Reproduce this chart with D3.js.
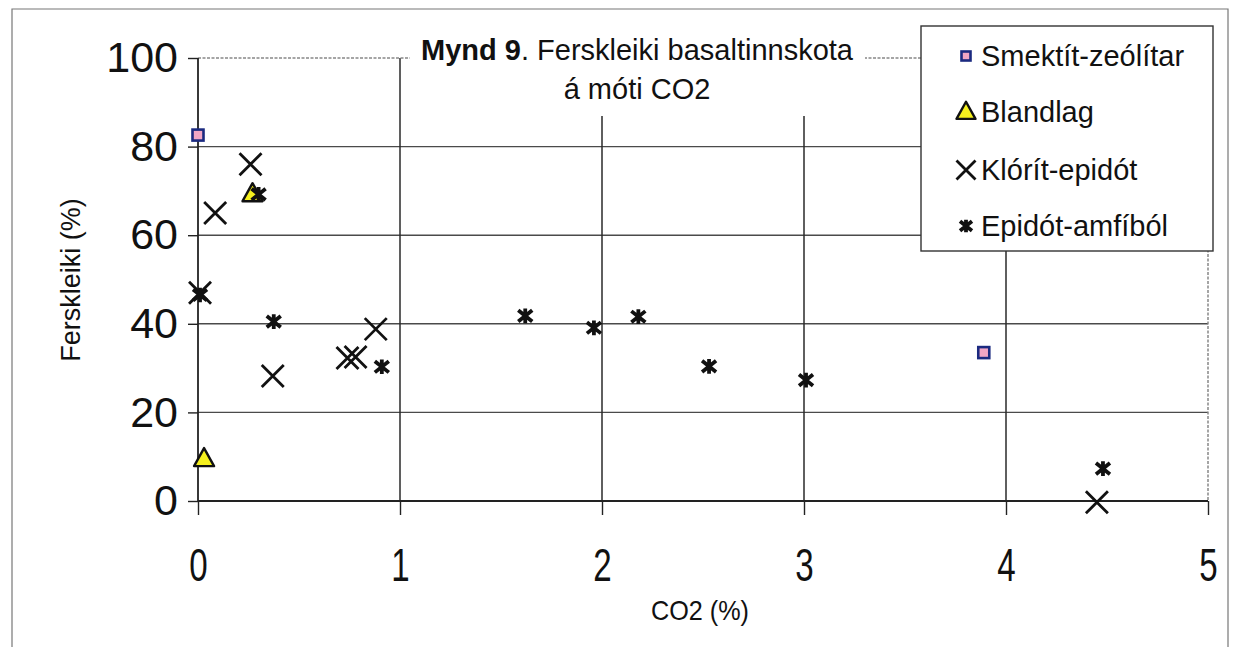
<!DOCTYPE html>
<html>
<head>
<meta charset="utf-8">
<script src="https://cdn.jsdelivr.net/npm/d3@7"></script>
<style>
  html, body { margin: 0; padding: 0; background: #fff; }
  svg { display: block; font-family: "Liberation Sans", Arial, sans-serif; }
</style>
</head>
<body>
<svg id="chart" width="1233" height="647"></svg>
<script>
// Series (CO2 %, Ferskleiki %)
const smektitZeolitar = [[0.00, 82.6], [3.89, 33.5]];
const blandlag = [[0.27, 69.3], [0.03, 9.5]];
const kloritEpidot = [[0.26, 76], [0.085, 65], [0.01, 47], [0.37, 28.2], [0.74, 32.3], [0.78, 32.5], [0.88, 38.8], [4.45, -0.3]];
const epidotAmfibol = [[0.01, 46.5], [0.30, 69.2], [0.375, 40.5], [0.91, 30.3], [1.62, 41.8], [1.96, 39.1], [2.18, 41.6], [2.53, 30.4], [3.01, 27.3], [4.48, 7.3]];

const xTicks = [0, 1, 2, 3, 4, 5];
const yTicks = [0, 20, 40, 60, 80, 100];
const legendLabels = ["Smektít-zeólítar", "Blandlag", "Klórít-epidót", "Epidót-amfíból"];

const svg = d3.select("#chart");
const plotLeft = 198, plotRight = 1208, plotTop = 58, plotBottom = 501;

const x = d3.scaleLinear().domain([0, 5]).range([plotLeft, plotRight]);
const y = d3.scaleLinear().domain([0, 100]).range([plotBottom, plotTop]);

// outer frame
svg.append("path")
  .attr("d", `M12,647 L12,9 L1228,9 L1228,647`)
  .attr("fill", "none").attr("stroke", "#777").attr("stroke-width", 1.2);

// horizontal gridlines
const g = svg.append("g");
g.selectAll("line.hg").data(yTicks.filter(d => d > 0 && d < 100)).join("line")
  .attr("class", "hg")
  .attr("x1", plotLeft).attr("x2", plotRight)
  .attr("y1", d => y(d)).attr("y2", d => y(d))
  .attr("stroke", "#4a4a4a").attr("stroke-width", 1.4);
// vertical gridlines
g.selectAll("line.vg").data(xTicks.filter(d => d > 0 && d < 5)).join("line")
  .attr("class", "vg")
  .attr("x1", d => x(d)).attr("x2", d => x(d))
  .attr("y1", plotTop).attr("y2", plotBottom)
  .attr("stroke", "#2a2a2a").attr("stroke-width", 1.5);

// top and right border of plot area (light, dotted)
svg.append("path")
  .attr("d", `M${plotLeft},${plotTop} L${plotRight},${plotTop} L${plotRight},${plotBottom}`)
  .attr("fill", "none").attr("stroke", "#888").attr("stroke-width", 1.5)
  .attr("stroke-dasharray", "3,1.5");

// axes
const xAxis = d3.axisBottom(x).tickValues(xTicks).tickSize(14).tickPadding(33).tickFormat(d3.format("d"));
const yAxis = d3.axisLeft(y).tickValues(yTicks).tickSize(10).tickPadding(10).tickFormat(d3.format("d"));

const gx = svg.append("g").attr("transform", `translate(0,${plotBottom})`).call(xAxis);
const gy = svg.append("g").attr("transform", `translate(${plotLeft},0)`).call(yAxis);
[gx, gy].forEach(a => {
  a.select(".domain").attr("stroke", "#222").attr("stroke-width", 1.8);
  a.selectAll(".tick line").attr("stroke", "#222").attr("stroke-width", 1.4);
  a.selectAll(".tick text").attr("fill", "#111")
    .attr("font-family", "'Liberation Sans', Arial, sans-serif");
});
gy.selectAll(".tick text").attr("font-size", 43);
// x labels are set in a narrow, tall face
gx.selectAll(".tick text").attr("font-size", 46).attr("transform", "scale(0.72,1)");
gx.select(".domain").attr("d", `M${plotLeft},0H${plotRight}`);
gy.select(".domain").attr("d", `M0,${plotBottom}V${plotTop}`);

// axis titles
svg.append("text").attr("x", 700).attr("y", 620).attr("text-anchor", "middle")
  .attr("font-size", 28).attr("fill", "#111")
  .attr("transform", "translate(700,0) scale(0.9,1) translate(-700,0)").text("CO2 (%)");
svg.append("text").attr("transform", "translate(80,280) rotate(-90)")
  .attr("text-anchor", "middle").attr("font-size", 27).attr("fill", "#111").text("Ferskleiki (%)");

// title box (covers gridlines)
svg.append("rect").attr("x", 410).attr("y", 26).attr("width", 455).attr("height", 90).attr("fill", "#fff");
const t1 = svg.append("text").attr("x", 637).attr("y", 60).attr("text-anchor", "middle")
  .attr("font-size", 29).attr("fill", "#111");
t1.append("tspan").attr("font-weight", "bold").text("Mynd 9");
t1.append("tspan").text(".  Ferskleiki basaltinnskota");
svg.append("text").attr("x", 637).attr("y", 99).attr("text-anchor", "middle")
  .attr("font-size", 29).attr("fill", "#111").text("á móti CO2");

// marker shapes
function drawSquare(sel, s) {
  sel.append("rect").attr("x", -s / 2).attr("y", -s / 2).attr("width", s).attr("height", s)
    .attr("fill", "#f2a6c4").attr("stroke", "#1b2a80").attr("stroke-width", 2.6);
}
function drawTriangle(sel, s) {
  const h = s * 0.9;
  sel.append("path").attr("d", `M0,${-h * 0.6} L${s / 2},${h * 0.4} L${-s / 2},${h * 0.4} Z`)
    .attr("fill", "#f5f01e").attr("stroke", "#111").attr("stroke-width", 2.4).attr("stroke-linejoin", "round");
}
function drawCross(sel, s) {
  const r = s / 2;
  sel.append("path").attr("d", `M${-r},${-r} L${r},${r} M${-r},${r} L${r},${-r}`)
    .attr("stroke", "#111").attr("stroke-width", 2.8).attr("fill", "none");
}
function drawStar(sel, s) {
  const r = s / 2;
  sel.append("path").attr("d", `M${-r},${-r * 0.8} L${r},${r * 0.8} M${-r},${r * 0.8} L${r},${-r * 0.8} M0,${-r * 1.05} L0,${r * 1.05}`)
    .attr("stroke", "#111").attr("stroke-width", 3.8).attr("fill", "none");
}

const plot = svg.append("g");
function plotSeries(data, fn, size) {
  data.forEach(d => {
    const m = plot.append("g").attr("transform", `translate(${x(d[0])},${y(d[1])})`);
    fn(m, size);
  });
}
plotSeries(smektitZeolitar, drawSquare, 11);
plotSeries(blandlag, drawTriangle, 20);
plotSeries(kloritEpidot, drawCross, 22);
plotSeries(epidotAmfibol, drawStar, 14);

// legend
const lg = svg.append("g");
lg.append("rect").attr("x", 921).attr("y", 26).attr("width", 292).attr("height", 225)
  .attr("fill", "#fff").attr("stroke", "#333").attr("stroke-width", 1.4);
const markers = [[drawSquare, 9], [drawTriangle, 19], [drawCross, 19], [drawStar, 12]];
const rowsY = [56, 112, 170, 226];
legendLabels.forEach((lab, i) => {
  const m = lg.append("g").attr("transform", `translate(966,${rowsY[i]})`);
  markers[i][0](m, markers[i][1]);
  lg.append("text").attr("x", 981).attr("y", rowsY[i] + 10).attr("font-size", 29)
    .attr("fill", "#111").text(lab);
});
</script>
</body>
</html>
